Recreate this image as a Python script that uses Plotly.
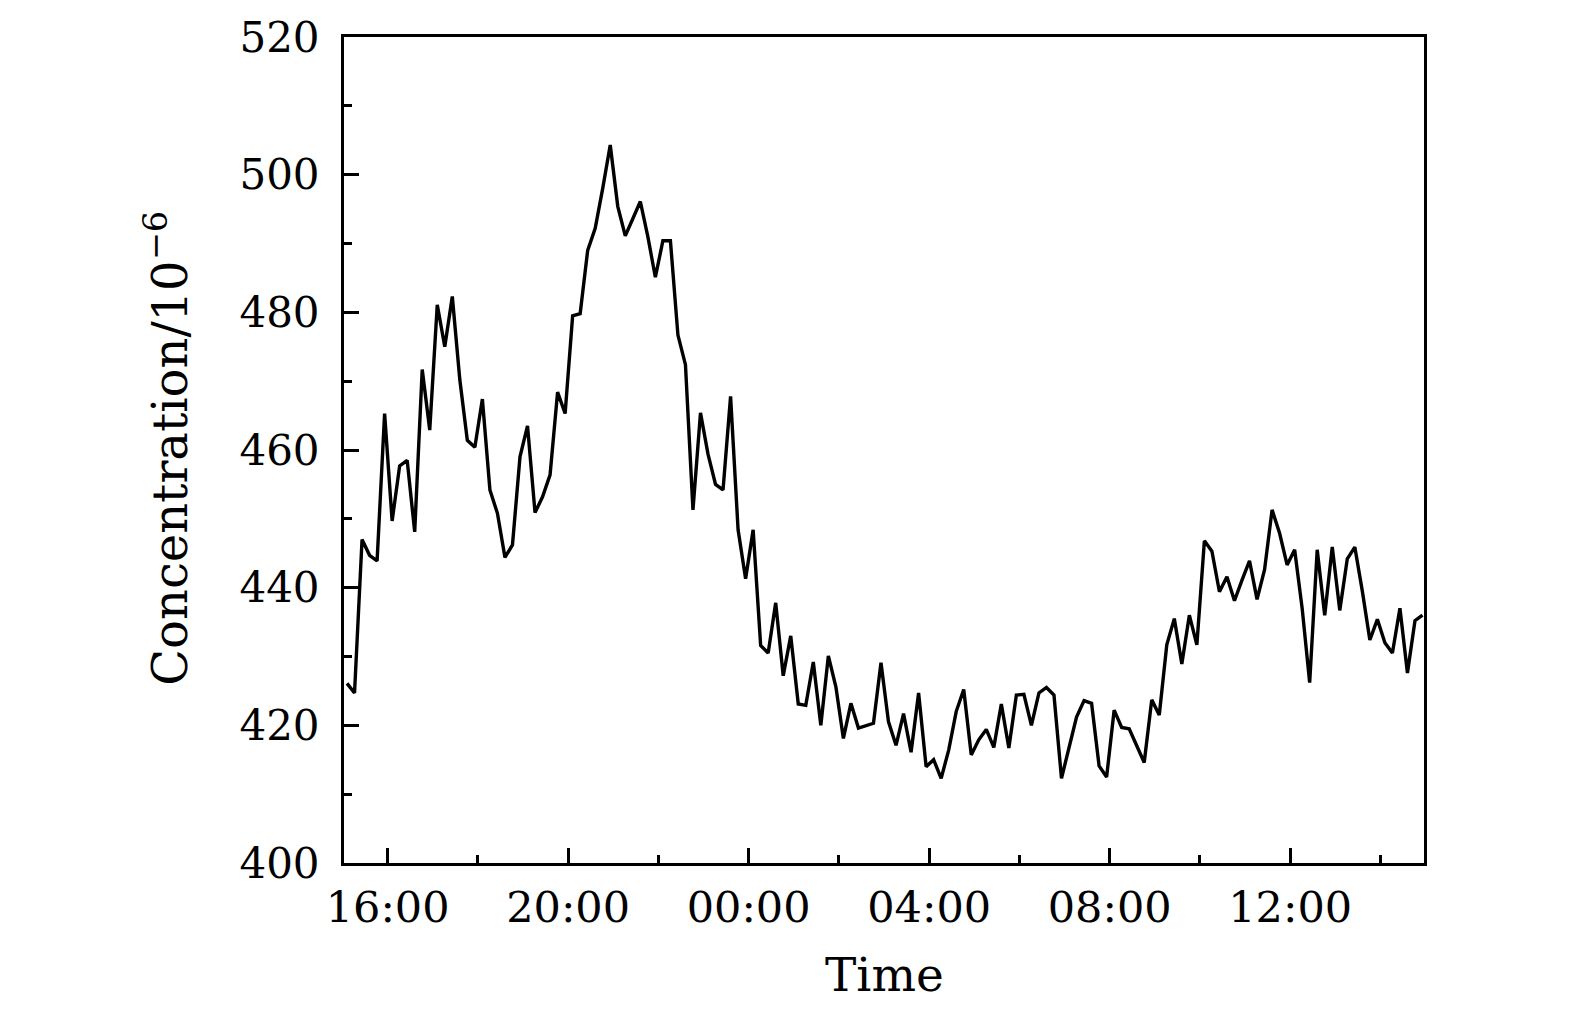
import pandas as pd
import plotly.graph_objects as go

# Concentration values (10^-6), sampled every 10 minutes starting 15:06
start_time = "2000-01-01 15:06"
sample_step = "10min"
concentration = [
    426.1, 424.7, 447.0, 444.7, 443.9, 465.3, 449.7, 457.7, 458.5, 448.1,
    471.7, 462.9, 481.1, 475.0, 482.3, 470.2, 461.4, 460.4, 467.4, 454.2,
    450.8, 444.4, 446.2, 459.0, 463.5, 450.9, 453.2, 456.4, 468.4, 465.3,
    479.5, 479.8, 489.0, 492.2, 498.0, 504.3, 495.4, 491.1, 493.6, 496.1,
    491.0, 485.1, 490.4, 490.4, 476.7, 472.4, 451.3, 465.4, 459.4, 455.0,
    454.2, 467.8, 448.4, 441.3, 448.4, 431.6, 430.5, 437.8, 427.2, 433.0,
    423.1, 422.9, 429.2, 420.0, 430.1, 425.6, 418.1, 423.2, 419.6, 419.9,
    420.3, 429.1, 420.5, 417.1, 421.7, 416.1, 424.7, 414.0, 415.0, 412.3,
    416.4, 422.0, 425.2, 415.7, 417.9, 419.4, 416.8, 423.1, 416.7, 424.4,
    424.5, 420.0, 424.7, 425.5, 424.4, 412.3, 416.9, 421.2, 423.6, 423.2,
    414.1, 412.5, 422.2, 419.7, 419.5, 416.9, 414.6, 423.7, 421.5, 431.7,
    435.5, 428.9, 436.0, 431.7, 446.8, 445.3, 439.4, 441.6, 438.1, 441.1,
    443.9, 438.3, 442.6, 451.3, 447.9, 443.3, 445.5, 437.0, 426.2, 445.5,
    436.0, 445.9, 436.7, 444.2, 445.9, 439.5, 432.4, 435.4, 432.0, 430.5,
    437.0, 427.6, 435.2, 436.0,
]
times = pd.date_range(start=start_time, periods=len(concentration), freq=sample_step)

x_range = ["2000-01-01 15:02", "2000-01-02 14:58"]
y_range = [400, 520]
x_title = "Time"
y_title = "Concentration/10<sup>−6</sup>"

FONT = "DejaVu Serif"
OFF = 8  # page body margin

fig = go.Figure()
fig.add_trace(go.Scatter(
    x=times, y=concentration, mode="lines",
    line=dict(color="black", width=3.4),
    showlegend=False,
))

W, H = 1575, 1014
ml, mr, mt, mb = 343.5 - OFF, 150.6 + OFF, 37.2 - OFF, 151.2 + OFF
pw = W - ml - mr
ph = H - mt - mb

fig.update_layout(
    width=W, height=H,
    margin=dict(l=ml, r=mr, t=mt, b=mb, pad=0, autoexpand=False),
    paper_bgcolor="white", plot_bgcolor="white",
    font=dict(family=FONT, size=43, color="black"),
    xaxis=dict(
        type="date", range=x_range, automargin=False,
        tickformat="%H:%M", dtick=4 * 3600 * 1000, tick0="2000-01-01 00:00",
        ticks="inside", ticklen=15, tickwidth=2.5, tickcolor="black",
        minor=dict(dtick=2 * 3600 * 1000, tick0="2000-01-01 00:00",
                   ticks="inside", ticklen=8, tickwidth=2.5, tickcolor="black"),
        showline=True, linewidth=3, linecolor="black", mirror=True,
        showgrid=False, zeroline=False,
        tickfont=dict(family=FONT, size=43, color="black"),
        ticklabelstandoff=4,
    ),
    yaxis=dict(
        range=y_range, dtick=20, tick0=400, automargin=False,
        ticks="inside", ticklen=15, tickwidth=2.5, tickcolor="black",
        minor=dict(dtick=10, ticks="inside", ticklen=8, tickwidth=2.5, tickcolor="black"),
        showline=True, linewidth=3, linecolor="black", mirror=True,
        showgrid=False, zeroline=False,
        tickfont=dict(family=FONT, size=42, color="black"),
        ticklabelstandoff=13,
    ),
    annotations=[
        dict(text=y_title, xref="paper", yref="paper",
             x=(166 - OFF - ml) / pw, y=(H - mb - (448 - OFF)) / ph,
             xanchor="center", yanchor="middle",
             textangle=-90, showarrow=False,
             font=dict(family=FONT, size=48, color="black")),
        dict(text=x_title, xref="paper", yref="paper",
             x=(884 - OFF - ml) / pw, y=-(974 - OFF - (H - mb)) / ph,
             xanchor="center", yanchor="middle", showarrow=False,
             font=dict(family=FONT, size=47, color="black")),
    ],
)

fig.write_html("out.html")
